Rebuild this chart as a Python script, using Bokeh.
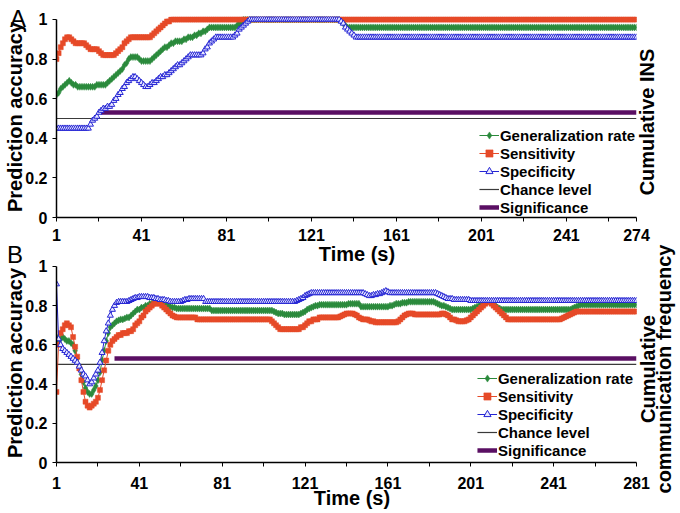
from bokeh.plotting import figure
from bokeh.models import Range1d, FixedTicker, Legend, LegendItem, Div
from bokeh.layouts import column
from bokeh.embed import file_html
from bokeh.resources import INLINE

# ---------------- data ----------------
# Panel A (Cumulative INS), time 1..274 s
gen_A = ([0.62, 0.63, 0.65, 0.66, 0.67, 0.68, 0.69] + [0.68, 0.67, 0.67] + [0.66]*9 + [0.67]*5
         + [0.68, 0.69, 0.70, 0.71, 0.72] + [0.73, 0.74, 0.75, 0.77, 0.78, 0.80, 0.81] + [0.81]*3
         + [0.80, 0.79, 0.79, 0.79, 0.79, 0.79] + [0.80, 0.81, 0.82, 0.83, 0.84, 0.85, 0.86, 0.86, 0.87, 0.88]
         + [0.88, 0.89, 0.89, 0.89, 0.89, 0.90, 0.90] + [0.91, 0.91, 0.91, 0.92, 0.92, 0.93, 0.93, 0.94, 0.94, 0.95]
         + [0.96]*13 + [0.97, 0.98, 0.99, 1.0] + [1.0]*45 + [0.99, 0.98, 0.97, 0.96, 0.96] + [0.96]*135)
sens_A = ([0.80, 0.83, 0.86, 0.88, 0.90, 0.91] + [0.91, 0.90, 0.89] + [0.88]*5 + [0.87, 0.86] + [0.85]*4
          + [0.84, 0.83] + [0.82]*6 + [0.83, 0.84, 0.85, 0.86, 0.88, 0.89, 0.90] + [0.91]*10
          + [0.92, 0.93, 0.94, 0.95, 0.96, 0.97, 0.98, 0.99, 0.99] + [1.0]*220)
spec_A = ([0.45]*16 + [0.47, 0.49, 0.50, 0.51, 0.53, 0.54] + [0.55, 0.55, 0.56, 0.56, 0.57]
          + [0.59, 0.60, 0.62, 0.63, 0.65, 0.66, 0.68, 0.69, 0.70, 0.71] + [0.71, 0.70, 0.69, 0.68]
          + [0.67, 0.66, 0.66, 0.67] + [0.68, 0.68, 0.69, 0.70, 0.71, 0.71, 0.72, 0.72, 0.73, 0.74]
          + [0.75, 0.76, 0.77, 0.77, 0.78, 0.79, 0.80, 0.81] + [0.82]*6 + [0.83, 0.85, 0.86, 0.88, 0.89, 0.90]
          + [0.91]*9 + [0.92, 0.93, 0.95, 0.96, 0.97, 0.98, 0.99] + [1.0]*43
          + [0.99, 0.98, 0.96, 0.95, 0.94, 0.93, 0.92] + [0.91]*133)

# Panel B (Cumulative communication frequency), time 1..281 s
gen_B = ([0.64, 0.62, 0.63, 0.64, 0.63, 0.62, 0.62, 0.61] + [0.60, 0.57, 0.53, 0.49, 0.45, 0.41, 0.38, 0.36, 0.35]
         + [0.35, 0.37, 0.39, 0.42, 0.46, 0.52, 0.57, 0.62, 0.66, 0.69, 0.70, 0.71]
         + [0.72, 0.725, 0.73, 0.73, 0.735, 0.74, 0.74, 0.75, 0.76, 0.77, 0.78]
         + [0.78, 0.79, 0.79, 0.80, 0.80, 0.81, 0.81, 0.82, 0.82, 0.82]
         + [0.82, 0.82, 0.815, 0.81, 0.80, 0.795, 0.79, 0.79, 0.785, 0.785] + [0.785]*15 + [0.775]*30
         + [0.77, 0.765, 0.76, 0.76, 0.76] + [0.755]*8 + [0.76, 0.765, 0.77, 0.78, 0.785, 0.79, 0.795, 0.80, 0.80]
         + [0.805]*14 + [0.81]*6 + [0.795]*14 + [0.80, 0.80, 0.805, 0.81, 0.81, 0.81, 0.815, 0.815, 0.815]
         + [0.82]*13 + [0.815, 0.81, 0.805, 0.80, 0.80, 0.795, 0.79, 0.785, 0.78, 0.78] + [0.78]*8
         + [0.785, 0.79, 0.795, 0.80, 0.805, 0.81, 0.815, 0.82, 0.82] + [0.815, 0.81, 0.80, 0.79, 0.785, 0.78]
         + [0.78]*33 + [0.785, 0.79, 0.795, 0.80, 0.805] + [0.805]*27)
sens_B = ([0.36, 0.60, 0.66, 0.68, 0.70, 0.71, 0.70, 0.69] + [0.64, 0.59, 0.54, 0.48, 0.42, 0.36, 0.31, 0.29, 0.28]
          + [0.29, 0.30, 0.31, 0.33, 0.37, 0.42, 0.47, 0.52, 0.57, 0.60, 0.62, 0.63]
          + [0.64, 0.65, 0.65, 0.66, 0.66, 0.66, 0.67, 0.67, 0.68]
          + [0.70, 0.71, 0.72, 0.74, 0.75, 0.77, 0.78, 0.79, 0.80, 0.81, 0.81, 0.82]
          + [0.81, 0.80, 0.79, 0.78, 0.77, 0.76, 0.75, 0.745, 0.74, 0.74] + [0.74]*8 + [0.73]*36
          + [0.72, 0.71, 0.70, 0.69, 0.68, 0.68] + [0.68]*8 + [0.69, 0.69, 0.70, 0.71, 0.72, 0.72, 0.73, 0.73, 0.73]
          + [0.74]*10 + [0.745, 0.75, 0.755, 0.76, 0.76, 0.76, 0.76, 0.755, 0.75]
          + [0.74, 0.735, 0.73, 0.73, 0.73, 0.725, 0.72, 0.72, 0.715, 0.715] + [0.715]*9
          + [0.72, 0.73, 0.74, 0.75, 0.755, 0.76, 0.76, 0.76, 0.755] + [0.755]*12
          + [0.76, 0.76, 0.755, 0.75, 0.74, 0.73] + [0.73, 0.725, 0.72, 0.72, 0.72, 0.72, 0.725]
          + [0.73, 0.74, 0.75, 0.76, 0.77, 0.78, 0.79, 0.80, 0.81, 0.82, 0.82]
          + [0.81, 0.80, 0.79, 0.78, 0.77, 0.76, 0.75, 0.74] + [0.73]*26
          + [0.735, 0.74, 0.745, 0.75, 0.755, 0.76, 0.765, 0.77] + [0.77]*29)
spec_B = ([0.91, 0.63, 0.60, 0.58, 0.57, 0.56, 0.55, 0.54] + [0.53, 0.52, 0.51, 0.49, 0.47, 0.45, 0.44, 0.42, 0.40]
          + [0.41, 0.43, 0.45, 0.47, 0.51, 0.56, 0.62, 0.67, 0.71, 0.75, 0.78, 0.80]
          + [0.815, 0.82, 0.82, 0.82, 0.82, 0.82, 0.825, 0.83]
          + [0.835, 0.84, 0.84, 0.845, 0.845, 0.845, 0.845, 0.845, 0.84, 0.84, 0.84, 0.835]
          + [0.835, 0.83, 0.83, 0.83, 0.825, 0.825, 0.82, 0.82, 0.82, 0.82, 0.82, 0.82, 0.825, 0.83, 0.83]
          + [0.835]*8 + [0.82]*44 + [0.825, 0.83, 0.835, 0.84, 0.85, 0.855, 0.86, 0.865] + [0.865]*25
          + [0.86, 0.855, 0.85, 0.85, 0.855, 0.855, 0.86, 0.86] + [0.865, 0.87, 0.875, 0.87] + [0.865]*23
          + [0.86, 0.855, 0.85, 0.845, 0.84, 0.835, 0.835, 0.835] + [0.83]*8 + [0.825]*81)

chance_level = 0.5
sig_level_A = 0.53
sig_level_B = 0.53
sig_start_A = 22
sig_start_B = 29
end_A = 274
end_B = 281

y_ticks = [0, 0.2, 0.4, 0.6, 0.8, 1]
y_tick_labels = ["0", "0.2", "0.4", "0.6", "0.8", "1"]
x_ticks_A = [1, 21, 41, 61, 81, 101, 121, 141, 161, 181, 201, 221, 241, 261, 274]
x_labels_A = ["1", "", "41", "", "81", "", "121", "", "161", "", "201", "", "241", "", "274"]
x_ticks_B = [1, 21, 41, 61, 81, 101, 121, 141, 161, 181, 201, 221, 241, 261, 281]
x_labels_B = ["1", "", "41", "", "81", "", "121", "", "161", "", "201", "", "241", "", "281"]

series_names = ["Generalization rate", "Sensitivity", "Specificity", "Chance level", "Significance"]
panel_letters = ["A", "B"]
x_title = "Time (s)"
y_title = "Prediction accuracy"
right_titles = [["Cumulative INS"], ["Cumulative", "communication frequency"]]

# ---------------- style ----------------
FONT = "Liberation Sans"
GREEN = "#2b8a3c"
RED = "#e64a28"
BLUE = "#2525d4"
PURPLE = "#5a0f63"
CHANCE = "#3a3a3a"


def make_panel(height, border_top, border_bottom, x_end, gen, sens, spec, sig_start, sig_level,
               xticks, xlabels, label_standoff, legend_margin):
    p = figure(width=680, height=height, output_backend="svg", toolbar_location=None,
               x_range=Range1d(1, x_end), y_range=Range1d(0, 1.015),
               min_border_left=56, min_border_right=44,
               min_border_top=border_top, min_border_bottom=border_bottom)
    p.outline_line_color = None
    p.xgrid.visible = False
    p.ygrid.visible = False
    p.background_fill_color = "white"
    p.border_fill_color = "white"

    for ax in (p.xaxis[0], p.yaxis[0]):
        ax.axis_line_color = "black"
        ax.axis_line_width = 1.5
        ax.major_tick_line_color = "black"
        ax.major_tick_line_width = 1
        ax.major_tick_in = 0
        ax.major_tick_out = 4
        ax.minor_tick_line_color = None
        ax.major_label_text_font = FONT
        ax.major_label_text_font_size = "16px"
        ax.major_label_text_font_style = "bold"
        ax.major_label_text_color = "black"
        ax.axis_label_text_font = FONT
        ax.axis_label_text_font_size = "20px"
        ax.axis_label_text_font_style = "bold"
        ax.axis_label_text_color = "black"

    p.yaxis.bounds = (0, 1)
    p.yaxis.ticker = FixedTicker(ticks=y_ticks)
    p.yaxis.major_label_overrides = {t: l for t, l in zip(y_ticks, y_tick_labels)}
    p.yaxis.major_label_standoff = 5
    p.yaxis.axis_label = y_title
    p.yaxis.axis_label_standoff = -4

    p.xaxis.bounds = (1, x_end)
    p.xaxis.ticker = FixedTicker(ticks=xticks)
    p.xaxis.major_label_overrides = {t: l for t, l in zip(xticks, xlabels)}
    p.xaxis.major_label_standoff = label_standoff

    xs_gen = list(range(1, len(gen) + 1))
    xs_sens = list(range(1, len(sens) + 1))
    xs_spec = list(range(1, len(spec) + 1))

    r_ch = p.line([1, x_end], [chance_level, chance_level], line_color=CHANCE, line_width=1.2)
    r_sig = p.line([sig_start, x_end], [sig_level, sig_level], line_color=PURPLE, line_width=4.5)

    l_g = p.line(xs_gen, gen, line_color=GREEN, line_width=1)
    s_g = p.scatter(xs_gen, gen, marker="diamond", size=7, fill_color=GREEN, line_color=GREEN, line_width=0.5)
    l_s = p.line(xs_sens, sens, line_color=RED, line_width=1)
    s_s = p.scatter(xs_sens, sens, marker="square", size=5, fill_color=RED, line_color=RED, line_width=0.5)
    l_b = p.line(xs_spec, spec, line_color=BLUE, line_width=1)
    s_b = p.scatter(xs_spec, spec, marker="triangle", size=6, fill_color="#e8e8ff", line_color=BLUE,
                    line_width=1)

    legend = Legend(items=[
        LegendItem(label=series_names[0], renderers=[l_g, s_g]),
        LegendItem(label=series_names[1], renderers=[l_s, s_s]),
        LegendItem(label=series_names[2], renderers=[l_b, s_b]),
        LegendItem(label=series_names[3], renderers=[r_ch]),
        LegendItem(label=series_names[4], renderers=[r_sig]),
    ], location="bottom_right")
    legend.label_text_font = FONT
    legend.label_text_font_size = "15px"
    legend.label_text_font_style = "bold"
    legend.label_text_color = "black"
    legend.glyph_width = 20
    legend.glyph_height = 18
    legend.label_height = 18
    legend.label_standoff = 1
    legend.spacing = 0
    legend.padding = 0
    legend.margin = legend_margin
    legend.border_line_color = None
    legend.background_fill_alpha = 0
    p.add_layout(legend)
    return p


pA = make_panel(248, 16, 31, end_A, gen_A, sens_A, spec_A, sig_start_A, sig_level_A,
                x_ticks_A, x_labels_A, 7, 1)
pB = make_panel(265, 15, 51, end_B, gen_B, sens_B, spec_B, sig_start_B, sig_level_B,
                x_ticks_B, x_labels_B, 10, 3)


def text_div(text, left, top, width, size, bold):
    return Div(text=text, width=width, height=size + 4,
               styles={"position": "absolute", "left": f"{left}px", "top": f"{top}px",
                       "font-family": FONT, "font-size": f"{size}px",
                       "font-weight": "bold" if bold else "normal", "line-height": "1",
                       "text-align": "center", "white-space": "nowrap",
                       "color": "black", "z-index": "10"})


def side_title_div(lines, left, bottom, span, line_height):
    # horizontal box rotated -90deg about its top-left corner: reads bottom-to-top
    return Div(text="<br>".join(lines), width=span, height=line_height * len(lines),
               styles={"position": "absolute", "left": f"{left}px", "top": f"{bottom}px",
                       "transform": "rotate(-90deg)", "transform-origin": "0 0",
                       "font-family": FONT, "font-size": "20px", "font-weight": "bold",
                       "line-height": f"{line_height}px", "text-align": "center",
                       "white-space": "nowrap", "color": "black", "z-index": "10"})


letterA = text_div(panel_letters[0], -2, 2, 30, 24, False)
letterB = text_div(panel_letters[1], -5, 238, 30, 24, False)
timeA = text_div(x_title, 302, 239, 100, 20, True)
timeB = text_div(x_title, 297, 483, 100, 20, True)
sideA = side_title_div(right_titles[0], 632, 217, 200, 20)
sideB = side_title_div(right_titles[1], 635, 504, 280, 16)

layout = column(pA, pB, letterA, letterB, timeA, timeB, sideA, sideB, spacing=0)
open("out.html", "w").write(file_html(layout, INLINE))
